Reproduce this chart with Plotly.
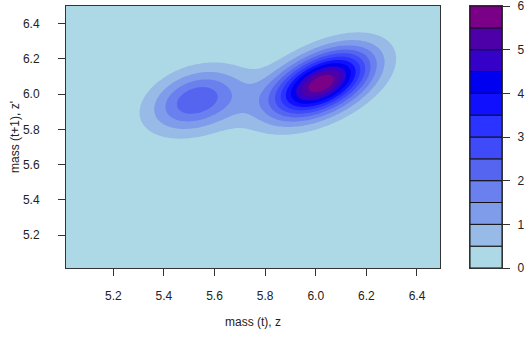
import numpy as np
import plotly.graph_objects as go

# Density bumps that make up the surface of (mass(t), mass(t+1)):
# main mode, secondary mode and the broad ridge joining them
peak_x = [6.025, 5.524, 5.78]
peak_y = [6.063, 5.968, 5.98]
peak_height = [5.6, 2.15, 0.45]
peak_sd_x = [0.13, 0.12, 0.28]
peak_sd_y = [0.13, 0.12, 0.14]
peak_corr = [0.5, 0.3, 0.5]

# Contour levels and their fill colours (low -> high)
levels = [0.0, 0.5, 1.0, 1.5, 2.0, 2.5, 3.0, 3.5, 4.0, 4.5, 5.0, 5.5, 6.0]
level_colors = ["#ADD8E6", "#98BAE6", "#7F9CEA", "#6A80EE", "#5565F0", "#3F4AF8",
                "#2A33FF", "#1010FF", "#0000F0", "#3500C8", "#4D00A8", "#7A0088"]

x_ticks = [5.2, 5.4, 5.6, 5.8, 6.0, 6.2, 6.4]
y_ticks = [5.2, 5.4, 5.6, 5.8, 6.0, 6.2, 6.4]
key_ticks = [0, 1, 2, 3, 4, 5, 6]

x_range = [5.013, 6.491]
y_range = [5.013, 6.5]

# Evaluate the surface on a regular grid
gx = np.linspace(x_range[0], x_range[1], 220)
gy = np.linspace(y_range[0], y_range[1], 220)
X, Y = np.meshgrid(gx, gy)
Z = np.zeros_like(X)
for mx, my, h, sx, sy, r in zip(peak_x, peak_y, peak_height, peak_sd_x, peak_sd_y, peak_corr):
    dx = (X - mx) / sx
    dy = (Y - my) / sy
    q = (dx * dx - 2 * r * dx * dy + dy * dy) / (1 - r * r)
    Z += h * np.exp(-0.5 * q)

# Stepped colour scale so each band gets one flat colour
zmin, zmax = levels[0], levels[-1]
scale = []
for i, c in enumerate(level_colors):
    scale.append([(levels[i] - zmin) / (zmax - zmin), c])
    scale.append([(levels[i + 1] - zmin) / (zmax - zmin), c])

W, H = 527, 339
def px(v):
    return v / W
def py(v):
    return 1 - v / H

font = dict(family="Liberation Sans, Arial, sans-serif", size=12, color="#222222")
line_col = "#333333"

fig = go.Figure()
fig.add_trace(go.Contour(
    x=gx, y=gy, z=Z,
    zmin=zmin, zmax=zmax, zauto=False,
    colorscale=scale,
    contours=dict(start=levels[0], end=levels[-1], size=levels[1] - levels[0],
                  coloring="fill", showlines=False),
    line=dict(width=0),
    showscale=False,
    hoverinfo="skip",
    xaxis="x", yaxis="y",
))

# Colour key drawn as stacked rectangles
fig.add_trace(go.Bar(
    x=[0.5] * len(level_colors),
    y=[levels[i + 1] - levels[i] for i in range(len(level_colors))],
    base=levels[:-1],
    width=1.0,
    marker=dict(color=level_colors, line=dict(color="#111111", width=1)),
    hoverinfo="skip",
    xaxis="x2", yaxis="y2",
    showlegend=False,
))

plot_top, plot_bot = 6, 268
fig.update_layout(
    width=W, height=H,
    margin=dict(l=0, r=0, t=0, b=0, autoexpand=False),
    paper_bgcolor="white",
    plot_bgcolor="white",
    font=font,
    showlegend=False,
    xaxis=dict(domain=[px(66), px(440)], range=x_range, tickvals=x_ticks,
               ticktext=[f"{v:.1f}" for v in x_ticks],
               ticks="outside", ticklen=7, tickcolor=line_col, tickwidth=1,
               showline=True, linecolor=line_col, linewidth=1, mirror=True,
               showgrid=False, zeroline=False, ticklabelstandoff=10,
               anchor="y", automargin=False),
    yaxis=dict(domain=[py(plot_bot), py(plot_top)], range=y_range, tickvals=y_ticks,
               ticktext=[f"{v:.1f}" for v in y_ticks],
               ticks="outside", ticklen=7, tickcolor=line_col, tickwidth=1,
               showline=True, linecolor=line_col, linewidth=1, mirror=True,
               showgrid=False, zeroline=False, ticklabelstandoff=16,
               anchor="x", automargin=False),
    xaxis2=dict(domain=[px(470), px(502)], range=[0, 1], showticklabels=False,
                ticks="", showline=True, linecolor=line_col, linewidth=1, mirror=True,
                showgrid=False, zeroline=False, anchor="y2", fixedrange=True,
                automargin=False),
    yaxis2=dict(domain=[py(plot_bot), py(plot_top)],
                range=[levels[0] - 1e-6, levels[-1] + 1e-6],
                tickvals=key_ticks, side="right", ticks="outside", ticklen=7,
                tickcolor=line_col, showline=True, linecolor=line_col, linewidth=1,
                mirror=True, showgrid=False, zeroline=False, anchor="x2",
                ticklabelstandoff=5, ticklabeloverflow="allow", automargin=False),
    annotations=[
        dict(text="mass (t), z", x=px(253), y=py(322), xref="paper", yref="paper",
             showarrow=False, xanchor="center", yanchor="middle", font=font),
        dict(text="mass (t+1), z'", x=px(15), y=py(137), xref="paper", yref="paper",
             showarrow=False, xanchor="center", yanchor="middle", textangle=-90, font=font),
    ],
)

fig.write_html("out.html")
